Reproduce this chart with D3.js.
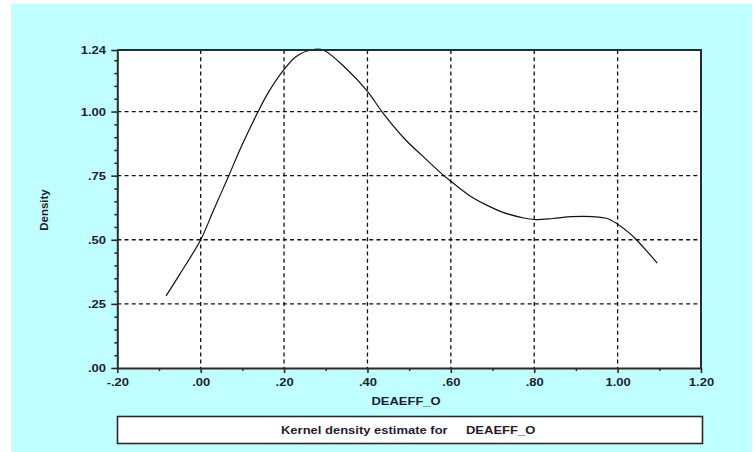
<!DOCTYPE html>
<html>
<head>
<meta charset="utf-8">
<script src="https://cdn.jsdelivr.net/npm/d3@7"></script>
<style>
  html, body { margin: 0; padding: 0; background: #ffffff; }
  svg { display: block; }
  text { font-family: "Liberation Sans", Arial, sans-serif; font-weight: bold; fill: #1c1c34; }
</style>
</head>
<body>
<svg id="chart" width="754" height="452"></svg>
<script>
// Kernel density estimate of DEAEFF_O, sampled along the x grid
const gridX = [-0.083, -0.05, 0.0, 0.03, 0.066, 0.10, 0.136, 0.16, 0.20, 0.23, 0.27, 0.295,
               0.35, 0.40, 0.436, 0.49, 0.53, 0.575, 0.60, 0.645, 0.68, 0.725, 0.775, 0.80,
               0.845, 0.89, 0.94, 0.975, 1.00, 1.03, 1.045, 1.07, 1.095];
const density = [0.281, 0.366, 0.500, 0.612, 0.745, 0.872, 0.994, 1.068, 1.164, 1.216, 1.242, 1.239,
                 1.166, 1.079, 0.997, 0.892, 0.830, 0.762, 0.728, 0.672, 0.640, 0.607, 0.585, 0.579,
                 0.583, 0.590, 0.590, 0.583, 0.561, 0.524, 0.500, 0.456, 0.409];

// Axis ticks and their labels
const xTicks = [-0.2, 0.0, 0.2, 0.4, 0.6, 0.8, 1.0, 1.2];
const xTickLabels = ["-.20", ".00", ".20", ".40", ".60", ".80", "1.00", "1.20"];
const xMinorTicks = [-0.1, 0.1, 0.3, 0.5, 0.7, 0.9, 1.1];
const yTicks = [0.0, 0.25, 0.5, 0.75, 1.0, 1.24];
const yTickLabels = [".00", ".25", ".50", ".75", "1.00", "1.24"];
const yMinorTicks = [0.05, 0.10, 0.15, 0.20, 0.30, 0.35, 0.40, 0.45, 0.55, 0.60, 0.65, 0.70,
                     0.80, 0.85, 0.90, 0.95, 1.05, 1.10, 1.15, 1.20];
const xGrid = [0.0, 0.2, 0.4, 0.6, 0.8, 1.0];
const yGrid = [0.25, 0.5, 0.75, 1.0];

const xTitle = "DEAEFF_O";
const yTitle = "Density";
const captionLead = "Kernel density estimate for";
const captionVar = "DEAEFF_O";

const svg = d3.select("#chart");
const plot = { left: 117.3, right: 701, top: 50, bottom: 368 };
const stretch = 1.3;   // wide lettering
const ink = "#2a2a2a";

// backdrop
svg.append("rect").attr("x", 11).attr("y", 4).attr("width", 741).attr("height", 448)
  .attr("fill", "#bfffff");
svg.append("rect").attr("x", plot.left).attr("y", plot.top)
  .attr("width", plot.right - plot.left).attr("height", plot.bottom - plot.top)
  .attr("fill", "#ffffff");

const x = d3.scaleLinear().domain([-0.2, 1.2]).range([plot.left, plot.right]);
const y = d3.scaleLinear().domain([0, 1.24]).range([plot.bottom, plot.top]);

// dashed grid
const grid = svg.append("g").attr("stroke", "#111").attr("stroke-width", 1.3)
  .attr("stroke-dasharray", "4,3.2");
grid.selectAll("line.v").data(xGrid).join("line").attr("class", "v")
  .attr("x1", d => x(d)).attr("x2", d => x(d))
  .attr("y1", plot.top).attr("y2", plot.bottom);
grid.selectAll("line.h").data(yGrid).join("line").attr("class", "h")
  .attr("x1", plot.left).attr("x2", plot.right)
  .attr("y1", d => y(d)).attr("y2", d => y(d));

// density curve
const line = d3.line().x((d, i) => x(gridX[i])).y(d => y(d)).curve(d3.curveCatmullRom.alpha(0.5));
svg.append("path").datum(density).attr("d", line)
  .attr("fill", "none").attr("stroke", "#111").attr("stroke-width", 1.2);

// frame top and right
svg.append("path")
  .attr("d", `M${plot.left},${plot.top}H${plot.right}V${plot.bottom}`)
  .attr("fill", "none").attr("stroke", ink).attr("stroke-width", 2);

// minor ticks
svg.append("g").attr("transform", `translate(0,${plot.bottom})`)
  .call(d3.axisBottom(x).tickValues(xMinorTicks).tickSize(3).tickFormat(""))
  .call(g => g.select(".domain").remove())
  .call(g => g.selectAll("line").attr("stroke", ink).attr("stroke-width", 1.5));
svg.append("g").attr("transform", `translate(${plot.left},0)`)
  .call(d3.axisLeft(y).tickValues(yMinorTicks).tickSize(3).tickFormat(""))
  .call(g => g.select(".domain").remove())
  .call(g => g.selectAll("line").attr("stroke", ink).attr("stroke-width", 1.5));

// major axes
svg.append("g").attr("transform", `translate(0,${plot.bottom})`)
  .call(d3.axisBottom(x).tickValues(xTicks).tickSize(5).tickSizeOuter(0)
    .tickFormat((d, i) => xTickLabels[i]))
  .call(g => g.select(".domain").attr("stroke", ink).attr("stroke-width", 2))
  .call(g => g.selectAll(".tick line").attr("stroke", ink).attr("stroke-width", 1.6))
  .call(g => g.selectAll("text").attr("y", 18.5).attr("dy", 0)
    .attr("font-size", 10).attr("fill", "#1c1c34")
    .attr("transform", `scale(${stretch},1)`));

svg.append("g").attr("transform", `translate(${plot.left},0)`)
  .call(d3.axisLeft(y).tickValues(yTicks).tickSize(6).tickSizeOuter(0)
    .tickFormat((d, i) => yTickLabels[i]))
  .call(g => g.select(".domain").attr("stroke", ink).attr("stroke-width", 2))
  .call(g => g.selectAll(".tick line").attr("stroke", ink).attr("stroke-width", 1.6))
  .call(g => g.selectAll("text").attr("x", -11.3 / stretch).attr("dy", "0.35em")
    .attr("font-size", 10).attr("fill", "#1c1c34")
    .attr("transform", `scale(${stretch},1)`));

// axis titles
svg.append("text").attr("transform", `translate(406,405) scale(${stretch},1)`)
  .attr("text-anchor", "middle").attr("font-size", 10).text(xTitle);
svg.append("text").attr("transform", "translate(48,210) rotate(-90) scale(1.15,1)")
  .attr("text-anchor", "middle").attr("font-size", 10).text(yTitle);

// caption box
svg.append("rect").attr("x", 117.5).attr("y", 416.5).attr("width", 585).attr("height", 27)
  .attr("fill", "#ffffff").attr("stroke", ink).attr("stroke-width", 1.6);
svg.append("text").attr("transform", `translate(281,434) scale(${stretch},1)`)
  .attr("font-size", 10).text(captionLead);
svg.append("text").attr("transform", `translate(466,434) scale(${stretch},1)`)
  .attr("font-size", 10).text(captionVar);
</script>
</body>
</html>
